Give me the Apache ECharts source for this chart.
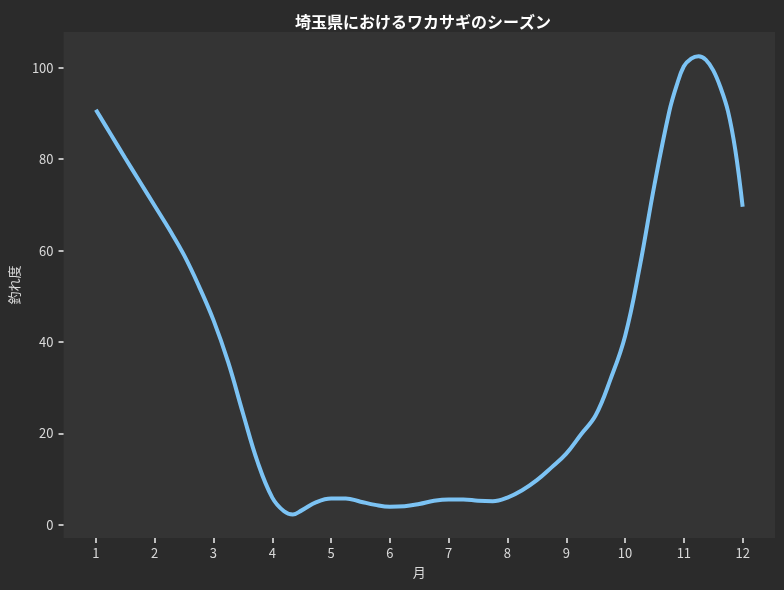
<!DOCTYPE html>
<html>
<head>
<meta charset="utf-8">
<title>埼玉県におけるワカサギのシーズン</title>
<script src="https://cdn.jsdelivr.net/npm/echarts@6/dist/echarts.min.js"></script>
<style>
html,body{margin:0;padding:0;background:#2b2b2b;}
#chartContainer{width:784px;height:590px;}
</style>
</head>
<body>
<div id="chartContainer"></div>
<script>
var myChart;//全局图表变量

// 月（横軸の位置）と釣れ度、画像から読み取った値
var monthPos=[1,1.25,1.5,1.75,2,2.25,2.5,2.75,3,3.25,3.5,3.75,4,4.2,4.35,4.5,4.75,
	5,5.25,5.5,5.75,6,6.25,6.5,6.75,7,7.25,7.5,7.75,8,8.25,8.5,8.75,
	9,9.25,9.5,9.75,10,10.25,10.5,10.75,10.875,11,11.125,11.25,11.375,11.5,11.625,11.75,11.875,12];
var catchRate=[90.8,85.5,80.2,75.0,69.8,64.6,59.0,52.3,44.8,35.6,24.5,13.8,6.0,3.0,2.3,3.2,5.0,
	5.8,5.8,5.1,4.4,4.0,4.1,4.6,5.3,5.6,5.6,5.3,5.2,6.0,7.6,9.8,12.6,
	15.6,19.8,24.0,31.8,41.3,56.5,74.4,90.3,96.0,100.3,102.0,102.5,101.7,99.4,95.6,90.5,82.0,69.6];
// 目盛り
var monthTicks=[1,2,3,4,5,6,7,8,9,10,11,12];
var rateTicks=[0,20,40,60,80,100];

var fontName="'Noto Sans CJK JP','Noto Sans',sans-serif";

function showSeason(){
	var dom=document.getElementById("chartContainer");
	myChart=echarts.init(dom,null,{renderer:'canvas'});
	var points=monthPos.map(function(m,i){return [m,catchRate[i]];});
	var option={
		backgroundColor:'#2b2b2b',
		animation:false,
		title:{
			text:'埼玉県におけるワカサギのシーズン',
			left:418,
			top:9,
			textAlign:'center',
			textStyle:{color:'#ffffff',fontSize:16,fontWeight:'bold',fontFamily:fontName}
		},
		grid:{
			left:61,right:9,top:32,bottom:52,
			show:true,backgroundColor:'#343434',borderWidth:0
		},
		xAxis:{
			type:'value',
			min:0.45,max:12.55,
			name:'月',
			nameLocation:'middle',
			nameGap:28,
			nameTextStyle:{color:'#d9d9d9',fontSize:13,fontFamily:fontName},
			axisLine:{show:false,onZero:false},
			splitLine:{show:false},
			axisTick:{show:true,inside:false,length:5,lineStyle:{color:'#f0f0f0',width:1.5}},
			axisLabel:{color:'#d9d9d9',fontSize:13,margin:9,fontFamily:fontName,customValues:monthTicks}
		},
		yAxis:{
			type:'value',
			min:-2.84,max:107.8,
			interval:20,
			name:'釣れ度',
			nameLocation:'middle',
			nameRotate:90,
			nameGap:30,
			nameTextStyle:{color:'#d9d9d9',fontSize:13,fontFamily:fontName},
			axisLine:{show:false,onZero:false},
			splitLine:{show:false},
			axisTick:{show:true,inside:false,length:5,customValues:rateTicks,lineStyle:{color:'#f0f0f0',width:1.5}},
			axisLabel:{color:'#d9d9d9',fontSize:13,margin:10,fontFamily:fontName,customValues:rateTicks}
		},
		series:[{
			type:'line',
			data:points,
			smooth:0.4,
			showSymbol:false,
			lineStyle:{color:'#7cc3f4',width:4,cap:'butt'}
		}]
	};
	// 目盛り線はcustomValuesで位置を合わせる
	option.xAxis.axisTick.customValues=monthTicks;
	myChart.setOption(option,true);
}

showSeason();
</script>
</body>
</html>
